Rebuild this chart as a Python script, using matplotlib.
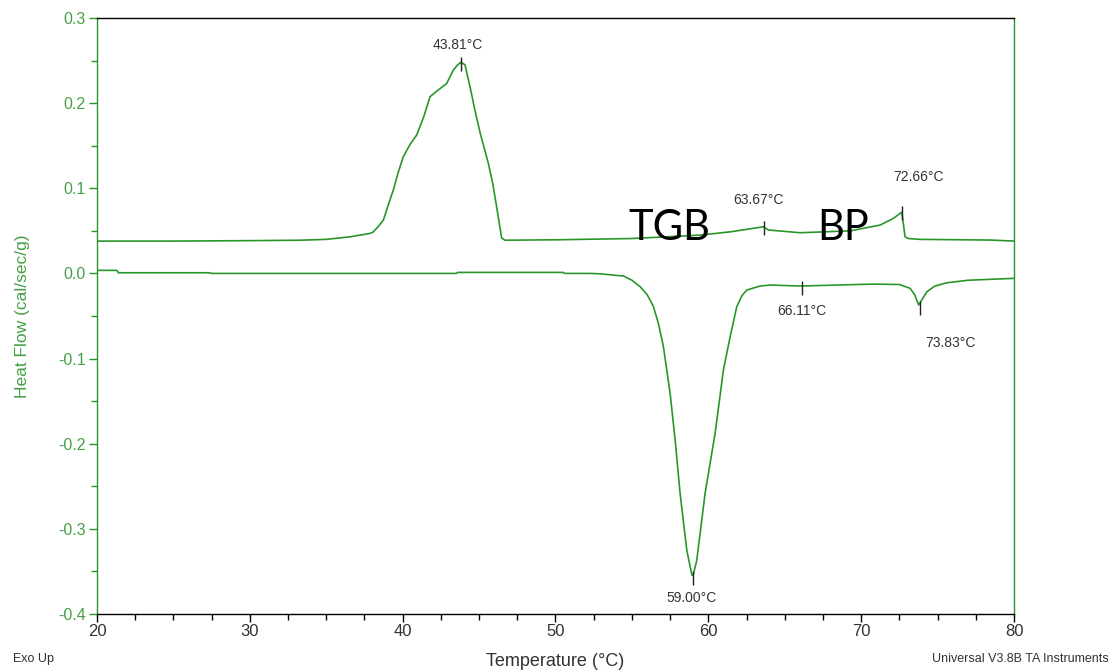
import matplotlib
matplotlib.use("Agg")
import matplotlib.pyplot as plt
from matplotlib.ticker import MultipleLocator

# cooling scan (upper trace)
cool_temp = [20, 25, 30, 33.3, 35, 36.56, 37.87, 38.06, 38.4, 38.74, 39.05, 39.39,
             39.7, 40.04, 40.5, 40.92, 41.4, 41.79, 42.3, 42.88, 43.32, 43.6, 43.81,
             44.08, 44.41, 44.75, 45.07, 45.61, 45.9, 46.15, 46.48, 46.7, 50, 55,
             59.46, 61.5, 63.6, 63.93, 66.0, 69.28, 71.24, 72.11, 72.55, 72.66, 72.87,
             73.1, 73.86, 78.44, 80]
cool_flow = [0.038, 0.038, 0.0385, 0.039, 0.040, 0.043, 0.047, 0.0485, 0.055, 0.0627,
             0.080, 0.098, 0.118, 0.137, 0.152, 0.1626, 0.185, 0.2076, 0.215, 0.223,
             0.239, 0.245, 0.248, 0.245, 0.219, 0.19, 0.165, 0.129, 0.105, 0.078,
             0.0415, 0.039, 0.0395, 0.041, 0.045, 0.049, 0.0548, 0.051, 0.0478, 0.050,
             0.0568, 0.0647, 0.0706, 0.072, 0.043, 0.041, 0.040, 0.0392, 0.038]

# heating scan (lower trace)
heat_temp = [20, 21.3, 21.4, 27.4, 27.5, 43.5, 43.6, 50.5, 50.6, 52.26, 53.0, 53.8,
             54.44, 55.0, 55.54, 56.0, 56.41, 56.75, 57.06, 57.5, 57.83, 58.15, 58.59,
             58.92, 59.0, 59.24, 59.79, 60.44, 60.99, 61.43, 61.86, 62.2, 62.52, 63.39,
             64.05, 66.0, 70.8, 72.5, 73.2, 73.5, 73.76, 73.9, 74.3, 74.8, 75.6, 77,
             78.44, 80]
heat_flow = [0.0036, 0.0036, 0.0008, 0.0008, 0.0, 0.0, 0.0012, 0.0012, 0.0, 0.0,
             -0.0005, -0.002, -0.003, -0.008, -0.0156, -0.025, -0.039, -0.06, -0.086,
             -0.141, -0.196, -0.258, -0.325, -0.354, -0.355, -0.337, -0.258, -0.188,
             -0.113, -0.074, -0.039, -0.026, -0.0195, -0.0148, -0.0136, -0.0148,
             -0.0125, -0.013, -0.0175, -0.025, -0.037, -0.033, -0.0215, -0.015, -0.011,
             -0.008, -0.0069, -0.0058]

# peak markers: temperature, heat flow, label
peak_temp = [43.81, 63.67, 72.66, 59.00, 66.11, 73.83]
peak_flow = [0.2465, 0.0537, 0.0706, -0.358, -0.0175, -0.0405]
peak_label = ["43.81°C", "63.67°C", "72.66°C", "59.00°C", "66.11°C", "73.83°C"]
# label offsets in points (dx, dy)
peak_offset = [(-2, 13), (-4, 20), (12, 26), (-1, -14), (0, -16), (22, -25)]

phase_names = ["TGB", "BP"]
phase_temp = [54.75, 67.15]
phase_flow = [0.039, 0.039]

line_green = "#2a962a"
label_green = "#45a045"

plt.rcParams["font.family"] = ["Liberation Sans", "DejaVu Sans"]

fig = plt.figure(figsize=(11.12, 6.71), dpi=100)
ax = fig.add_axes([0.0872, 0.0849, 0.8247, 0.8883])

ax.plot(cool_temp, cool_flow, color=line_green, lw=1.2)
ax.plot(heat_temp, heat_flow, color=line_green, lw=1.2)

ax.plot(peak_temp, peak_flow, ls="none", marker="|", markersize=10,
        markeredgewidth=1.0, color="#222222")
for t, f, lab, off in zip(peak_temp, peak_flow, peak_label, peak_offset):
    ax.annotate(lab, (t, f), xytext=off, textcoords="offset points",
                ha="center", va="center", fontsize=10, color="#333333")

for name, t, f in zip(phase_names, phase_temp, phase_flow):
    ax.text(t, f, name, fontsize=30, color="black", ha="left", va="baseline",
            family=["Lato", "Liberation Sans"])

ax.set_xlim(20, 80)
ax.set_ylim(-0.4, 0.3)
ax.xaxis.set_major_locator(MultipleLocator(10))
ax.xaxis.set_minor_locator(MultipleLocator(2.5))
ax.yaxis.set_major_locator(MultipleLocator(0.1))
ax.yaxis.set_minor_locator(MultipleLocator(0.05))
ax.yaxis.set_major_formatter(plt.FuncFormatter(lambda v, p: f"{v:.1f}"))

ax.tick_params(axis="x", which="major", length=6, width=1, colors="black",
               labelcolor="#333333", labelsize=12, pad=1)
ax.tick_params(axis="x", which="minor", length=4, width=1, colors="black")
ax.tick_params(axis="y", which="major", length=6, width=1, colors=line_green,
               labelcolor=label_green, labelsize=11.5, pad=2)
ax.tick_params(axis="y", which="minor", length=4, width=1, colors=line_green)

for side in ["left", "right"]:
    ax.spines[side].set_color(line_green)
for side in ["top", "bottom"]:
    ax.spines[side].set_color("black")
for sp in ax.spines.values():
    sp.set_linewidth(1.0)

ax.set_xlabel("Temperature (°C)", fontsize=13, color="#333333", labelpad=10)
ax.set_ylabel("Heat Flow (cal/sec/g)", fontsize=12.5, color=label_green, labelpad=20)

fig.text(0.012, 0.013, "Exo Up", fontsize=9, color="#333333")
fig.text(0.997, 0.013, "Universal V3.8B TA Instruments", fontsize=9,
         color="#333333", ha="right")

fig.savefig("out.png", dpi=100)
